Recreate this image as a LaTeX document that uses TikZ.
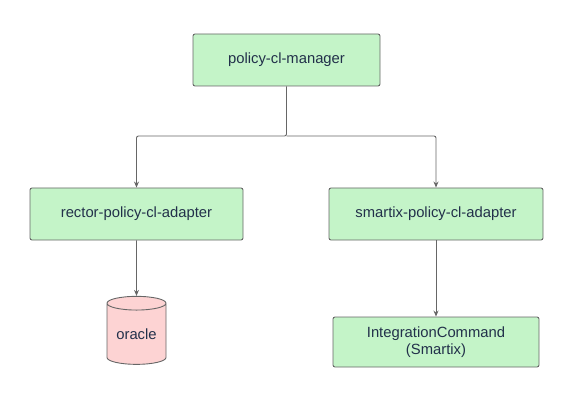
\documentclass[tikz,border=0pt]{standalone}
\usepackage{fontspec}
\setmainfont{Liberation Sans}
\usetikzlibrary{shapes.geometric,arrows.meta}
\definecolor{boxgreen}{HTML}{C4F4C8}
\definecolor{boxpink}{HTML}{FDD3D3}
\definecolor{edgegrey}{HTML}{666666}
\definecolor{textnavy}{HTML}{22304A}
\tikzset{
  box/.style={draw=edgegrey, line width=0.9pt, fill=boxgreen, rounded corners=2pt,
    text=textnavy, font=\fontsize{14.8}{17}\selectfont, align=center, inner sep=0pt},
  db/.style={cylinder, shape border rotate=90, aspect=0.34, draw=edgegrey, line width=0.9pt,
    fill=boxpink, text=textnavy, font=\fontsize{14.8}{17}\selectfont, inner sep=0pt,
    minimum width=59pt, minimum height=68pt},
  conn/.style={draw=edgegrey, line width=0.9pt, -{Stealth[length=6pt,width=5pt]}, rounded corners=2pt}
}
\begin{document}
\begin{tikzpicture}[x=1pt,y=-1pt]
\useasboundingbox (0,0) rectangle (569,403);
\node[box, minimum width=187pt, minimum height=52pt] (mgr) at (286.5,60) {policy-cl-manager};
\node[box, minimum width=213pt, minimum height=52pt] (rector) at (136.5,214) {rector-policy-cl-adapter};
\node[box, minimum width=214pt, minimum height=52pt] (smartix) at (436,214) {smartix-policy-cl-adapter};
\node[db] (oracle) at (136.5,334) {oracle};
\node[box, minimum width=206pt, minimum height=50pt] (cmd) at (436,342) {IntegrationCommand\\(Smartix)};
\coordinate (split) at (286.5,136);
\draw[conn] (mgr.south) -- (split) -| (rector.north);
\draw[conn] (split) -| (smartix.north);
\draw[conn] (rector.south) -- (oracle.north);
\draw[conn] (smartix.south) -- (cmd.north);
\end{tikzpicture}
\end{document}
